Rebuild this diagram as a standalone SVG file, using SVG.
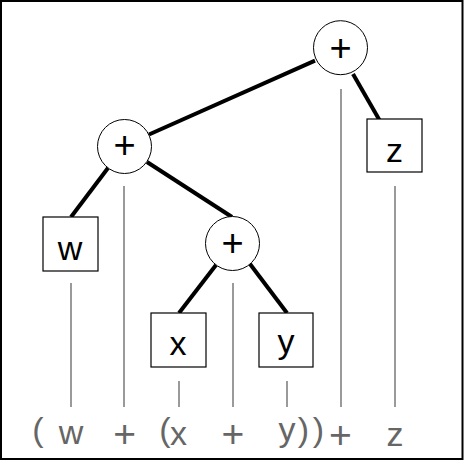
<svg xmlns="http://www.w3.org/2000/svg" width="464" height="461" viewBox="0 0 464 461">
<style>
.frame{fill:#fff;stroke:#000;stroke-width:2}
.op{fill:#fff;stroke:#000;stroke-width:1}
.leaf{fill:#fff;stroke:#000;stroke-width:1.2}
.lbl{font-family:"Liberation Sans",Arial,sans-serif;font-size:34px;fill:#000;text-anchor:middle}
.plus{font-family:"Liberation Sans",Arial,sans-serif;font-size:38px;fill:#000;text-anchor:middle}
.edge{stroke:#000;stroke-width:4;fill:none}
.guide{stroke:#9a9a9a;stroke-width:2;fill:none}
.tok{font-family:"Liberation Sans",Arial,sans-serif;font-size:34px;fill:#666;text-anchor:middle}
.tokp{font-family:"Liberation Sans",Arial,sans-serif;font-size:39px;fill:#666;text-anchor:middle}
</style>
<rect class="frame" x="1" y="1" width="461.5" height="458"/>
<g id="guides">
<line class="guide" x1="71" y1="283" x2="71" y2="407"/>
<line class="guide" x1="124" y1="186" x2="124" y2="407"/>
<line class="guide" x1="179" y1="381" x2="179" y2="407"/>
<line class="guide" x1="233" y1="283" x2="233" y2="407"/>
<line class="guide" x1="287" y1="381" x2="287" y2="407"/>
<line class="guide" x1="341" y1="89" x2="341" y2="407"/>
<line class="guide" x1="395" y1="186" x2="395" y2="407"/>
</g>
<g id="connectors">
<line class="edge" x1="315" y1="60.7" x2="149" y2="134.5"/>
<line class="edge" x1="108" y1="168" x2="71" y2="217"/>
<line class="edge" x1="147" y1="162" x2="232" y2="217"/>
<line class="edge" x1="216" y1="265" x2="179" y2="313"/>
<line class="edge" x1="250" y1="264" x2="287" y2="313"/>
<line class="edge" x1="353" y1="74" x2="380" y2="121"/>
</g>
<g id="node-root">
<circle class="op" cx="340.5" cy="47.7" r="27"/>
<text class="plus" x="340.5" y="60.9">+</text>
</g>
<g id="node-plus-left">
<circle class="op" cx="124.5" cy="146.5" r="27"/>
<text class="plus" x="124.5" y="157.9">+</text>
</g>
<g id="node-plus-inner">
<circle class="op" cx="232.5" cy="243.5" r="27"/>
<text class="plus" x="232.5" y="255.9">+</text>
</g>
<g id="node-w">
<rect class="leaf" x="43" y="217" width="55" height="54"/>
<text class="lbl" x="70" y="260">w</text>
</g>
<g id="node-x">
<rect class="leaf" x="151" y="313" width="55" height="54"/>
<text class="lbl" x="178" y="355">x</text>
</g>
<g id="node-y">
<rect class="leaf" x="259" y="313" width="54" height="54"/>
<text class="lbl" x="286" y="353">y</text>
</g>
<g id="node-z">
<rect class="leaf" x="367" y="119" width="55" height="53"/>
<text class="lbl" x="394.5" y="162">z</text>
</g>
<g id="expression">
<text class="tok" x="38" y="441">(</text>
<text class="tok" x="71" y="444">w</text>
<text class="tokp" x="124.7" y="446.6">+</text>
<text class="tok" x="165" y="441">(</text>
<text class="tok" x="178.5" y="445">x</text>
<text class="tokp" x="233" y="446.6">+</text>
<text class="tok" x="287" y="441">y</text>
<text class="tok" x="303.5" y="441">)</text>
<text class="tok" x="318.5" y="441">)</text>
<text class="tokp" x="340.5" y="447.5">+</text>
<text class="tok" x="395" y="446">z</text>
</g>
</svg>
